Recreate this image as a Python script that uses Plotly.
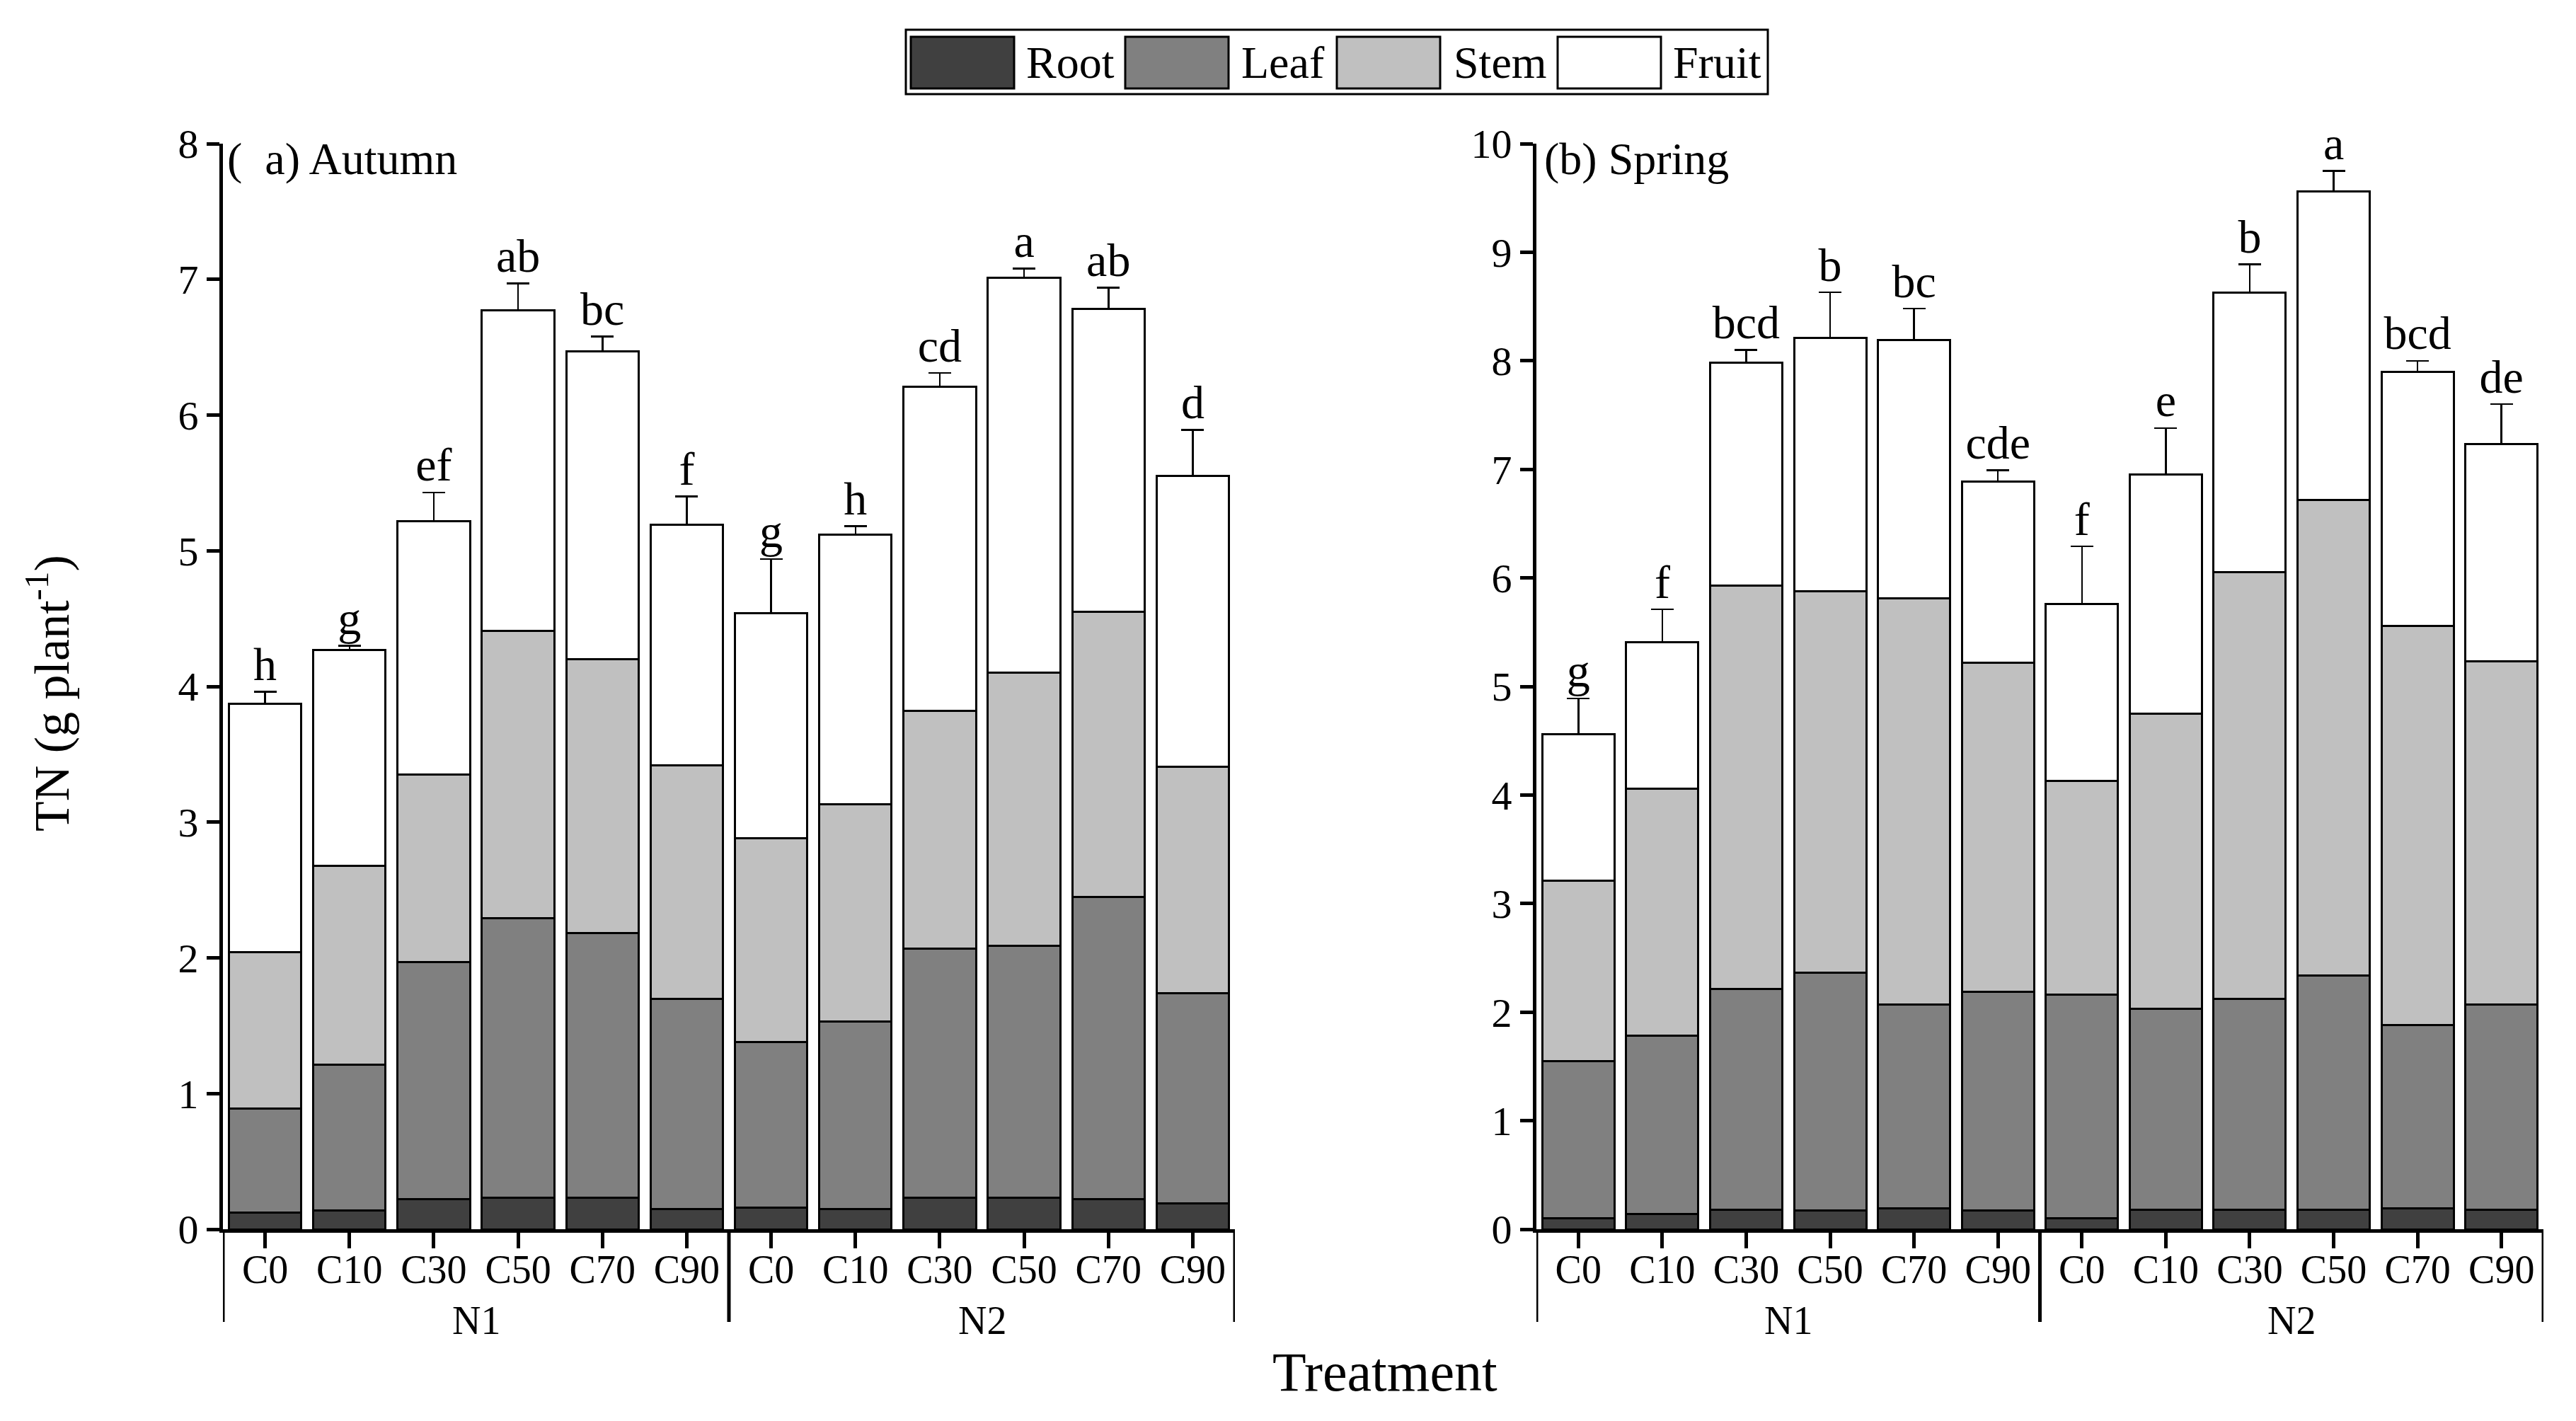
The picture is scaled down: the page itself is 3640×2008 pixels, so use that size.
import numpy as np
import plotly.graph_objects as go

# ---------------- data ----------------
groups = ["N1"] * 6 + ["N2"] * 6
treatments = ["C0", "C10", "C30", "C50", "C70", "C90"] * 2
parts = ["Root", "Leaf", "Stem", "Fruit"]

# (a) Autumn – TN per organ (g plant-1)
autumn_root = [0.12, 0.14, 0.22, 0.23, 0.23, 0.15, 0.16, 0.15, 0.23, 0.23, 0.22, 0.19]
autumn_leaf = [0.77, 1.07, 1.75, 2.06, 1.95, 1.55, 1.22, 1.38, 1.84, 1.86, 2.23, 1.55]
autumn_stem = [1.15, 1.47, 1.38, 2.12, 2.02, 1.72, 1.50, 1.60, 1.75, 2.01, 2.10, 1.67]
autumn_fruit = [1.83, 1.59, 1.87, 2.36, 2.27, 1.77, 1.66, 1.99, 2.39, 2.91, 2.23, 2.14]
autumn_err = [0.09, 0.03, 0.21, 0.20, 0.11, 0.21, 0.40, 0.06, 0.10, 0.07, 0.16, 0.34]
autumn_letters = ["h", "g", "ef", "ab", "bc", "f", "g", "h", "cd", "a", "ab", "d"]

# (b) Spring
spring_root = [0.10, 0.14, 0.18, 0.17, 0.19, 0.17, 0.10, 0.18, 0.18, 0.18, 0.19, 0.18]
spring_leaf = [1.45, 1.64, 2.03, 2.19, 1.88, 2.02, 2.06, 1.85, 1.94, 2.16, 1.69, 1.89]
spring_stem = [1.66, 2.28, 3.72, 3.52, 3.74, 3.03, 1.97, 2.72, 3.93, 4.38, 3.68, 3.16]
spring_fruit = [1.35, 1.35, 2.05, 2.33, 2.38, 1.67, 1.63, 2.20, 2.58, 2.84, 2.34, 2.00]
spring_err = [0.33, 0.30, 0.12, 0.42, 0.29, 0.10, 0.53, 0.43, 0.26, 0.19, 0.10, 0.37]
spring_letters = ["g", "f", "bcd", "b", "bc", "cde", "f", "e", "b", "a", "bcd", "de"]

# ---------------- styling ----------------
PAGE_W, PAGE_H = 3640, 2008
BODY = 8                      # default page margin around the plot div
W, H = PAGE_W - 2 * BODY, PAGE_H - 2 * BODY
FONT = "Liberation Serif"
part_colors = {"Root": "#404040", "Leaf": "#808080", "Stem": "#c0c0c0", "Fruit": "#ffffff"}


def px_x(p):
    return (p - BODY) / W


def px_y(p):
    return 1 - (p - BODY) / H


x_keys = [f"{g} {t}" for g, t in zip(groups, treatments)]
group_names = list(dict.fromkeys(groups))
group_idx = {g: [i for i, gg in enumerate(groups) if gg == g] for g in group_names}

fig = go.Figure()

panels = [
    ("x", "y", [autumn_root, autumn_leaf, autumn_stem, autumn_fruit], autumn_err, autumn_letters),
    ("x2", "y2", [spring_root, spring_leaf, spring_stem, spring_fruit], spring_err, spring_letters),
]

for xa, ya, series, err, letters in panels:
    for name, vals in zip(parts, series):
        kw = {}
        if name == "Fruit":
            kw["error_y"] = dict(type="data", array=err, symmetric=False,
                                 arrayminus=[0] * len(err), color="black",
                                 thickness=2.5, width=16)
        fig.add_trace(go.Bar(
            x=x_keys, y=vals, name=name, xaxis=xa, yaxis=ya,
            marker=dict(color=part_colors[name], line=dict(color="black", width=3)),
            showlegend=False, **kw))
    tops = np.sum(np.array(series), axis=0) + np.array(err)
    fig.add_trace(go.Scatter(
        x=x_keys, y=tops, mode="text", text=letters,
        textposition="top center", xaxis=xa, yaxis=ya, showlegend=False,
        textfont=dict(family=FONT, size=66, color="black"), cliponaxis=False))

xaxis_common = dict(
    type="category", tickmode="array", tickvals=x_keys, ticktext=treatments,
    range=[-0.5, len(x_keys) - 0.5],
    showline=True, linecolor="black", linewidth=5, ticks="outside", ticklen=22,
    tickwidth=5, tickcolor="black", showgrid=False, ticklabelstandoff=-18,
    tickfont=dict(family=FONT, size=56, color="black"), automargin=False,
)
yaxis_common = dict(
    showline=True, linecolor="black", linewidth=5, ticks="outside", ticklen=18,
    tickwidth=5, tickcolor="black", showgrid=False, zeroline=False, dtick=1,
    tickfont=dict(family=FONT, size=58, color="black"), automargin=False,
)

AXIS_Y = 1737
y_dom = [px_y(AXIS_Y), px_y(203)]

fig.update_layout(
    width=W, height=H, margin=dict(l=0, r=0, t=0, b=0),
    paper_bgcolor="white", plot_bgcolor="white",
    barmode="stack", bargap=0.14,
    font=dict(family=FONT, color="black"),
    showlegend=False,
    xaxis=dict(domain=[px_x(315), px_x(1745)], anchor="y", **xaxis_common),
    yaxis=dict(domain=y_dom, anchor="x", range=[0, 8], **yaxis_common),
    xaxis2=dict(domain=[px_x(2171), px_x(3594)], anchor="y2", **xaxis_common),
    yaxis2=dict(domain=y_dom, anchor="x2", range=[0, 10], **yaxis_common),
)

annotations = [
    dict(text="(\u00a0\u00a0a) Autumn", x=px_x(319), y=px_y(224), xref="paper", yref="paper",
         xanchor="left", yanchor="middle", showarrow=False,
         font=dict(family=FONT, size=64, color="black")),
    dict(text="(b) Spring", x=px_x(2180), y=px_y(224), xref="paper", yref="paper",
         xanchor="left", yanchor="middle", showarrow=False,
         font=dict(family=FONT, size=64, color="black")),
    dict(text="TN (g plant<sup>-1</sup>)", x=px_x(68), y=px_y(980), xref="paper", yref="paper",
         xanchor="center", yanchor="middle", textangle=-90, showarrow=False,
         font=dict(family=FONT, size=70, color="black")),
    dict(text="Treatment", x=px_x(1957), y=px_y(1938), xref="paper", yref="paper",
         xanchor="center", yanchor="middle", showarrow=False,
         font=dict(family=FONT, size=78, color="black")),
]

shapes = []
# group labels and group dividers under each x axis
for xa in ["x", "x2"]:
    bounds = sorted({min(ix) - 0.5 for ix in group_idx.values()} |
                    {max(ix) + 0.5 for ix in group_idx.values()})
    for b in bounds:
        shapes.append(dict(type="line", xref=xa, yref="paper", x0=b, x1=b,
                           y0=px_y(AXIS_Y), y1=px_y(1868),
                           line=dict(color="black", width=5)))
    for g, ix in group_idx.items():
        annotations.append(dict(text=g, x=float(np.mean(ix)), y=px_y(1866), xref=xa,
                                yref="paper", xanchor="center", yanchor="middle",
                                showarrow=False,
                                font=dict(family=FONT, size=56, color="black")))

# manual legend (large swatches like the original)
shapes.append(dict(type="rect", xref="paper", yref="paper",
                   x0=px_x(1280), x1=px_x(2498), y0=px_y(133), y1=px_y(42),
                   line=dict(color="black", width=3), fillcolor="white", layer="above"))
swatch_x = [1287, 1590, 1889, 2201]
label_x = [1448, 1752, 2052, 2362]
for name, sx, lx in zip(parts, swatch_x, label_x):
    shapes.append(dict(type="rect", xref="paper", yref="paper",
                       x0=px_x(sx), x1=px_x(sx + 146), y0=px_y(125), y1=px_y(52),
                       line=dict(color="black", width=3), fillcolor=part_colors[name],
                       layer="above"))
    annotations.append(dict(text=name, x=px_x(lx), y=px_y(88), xref="paper", yref="paper",
                            xanchor="left", yanchor="middle", showarrow=False,
                            font=dict(family=FONT, size=64, color="black")))

fig.update_layout(annotations=annotations, shapes=shapes)

fig.write_html("out.html")
